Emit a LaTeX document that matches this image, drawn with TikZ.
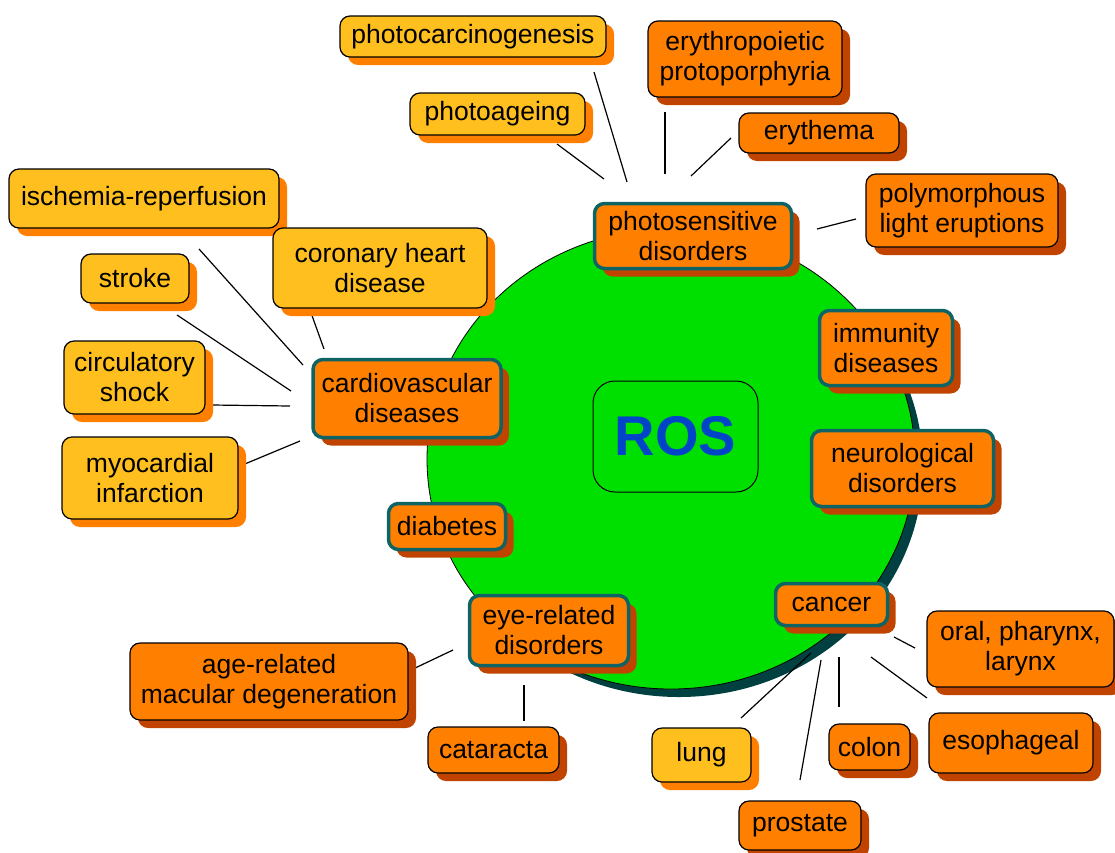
\documentclass[tikz,border=0pt]{standalone}
\usepackage{fontspec}
\setmainfont{Liberation Sans}
\usetikzlibrary{shadows}
\definecolor{yel}{HTML}{FFBF1F}
\definecolor{org}{HTML}{FF8000}
\definecolor{dorg}{HTML}{C04400}
\definecolor{tealb}{HTML}{0E6464}
\definecolor{grn}{HTML}{00E000}
\definecolor{dteal}{HTML}{004040}
\definecolor{rosblue}{HTML}{0044C8}
\tikzset{
  box/.style={rounded corners=10pt, inner sep=0pt, align=center,
    font=\fontsize{26.5}{30}\selectfont, line width=1.2pt, draw=black},
  ybox/.style={box, fill=yel, drop shadow={shadow xshift=8pt, shadow yshift=-8pt, fill=org, opacity=1}},
  obox/.style={box, fill=org, drop shadow={shadow xshift=8pt, shadow yshift=-8pt, fill=dorg, opacity=1}},
  cbox/.style={obox, draw=tealb, line width=3.5pt},
  sz/.style 2 args={minimum width=#1pt, minimum height=#2pt},
  link/.style={line width=1.2pt, draw=black},
}
\begin{document}
\begin{tikzpicture}[x=1pt,y=-1pt]
\useasboundingbox (0,0) rectangle (1115,852);
% central circle
\fill[dteal] (679,467) ellipse [x radius=244pt, y radius=230pt];
\draw[fill=grn, line width=0.8pt] (671,459) ellipse [x radius=244pt, y radius=230pt];
\node[draw=black, line width=1pt, rounded corners=22pt, sz={165}{111}, inner sep=0pt,
  font=\fontsize{56}{60}\selectfont\bfseries, text=rosblue] (ros) at (675.5,436.5) {ROS};

% connector coordinates
\coordinate (pc1) at (594,72);  \coordinate (pc2) at (627,182);
\coordinate (pa1) at (557,144); \coordinate (pa2) at (604,179);
\coordinate (ep1) at (665,112); \coordinate (ep2) at (665,174);
\coordinate (er1) at (731,138); \coordinate (er2) at (691,176);
\coordinate (pl1) at (856,219); \coordinate (pl2) at (817,229);
\coordinate (is1) at (199,249); \coordinate (is2) at (303,365);
\coordinate (co1) at (310,310); \coordinate (co2) at (324,349);
\coordinate (st1) at (177,315); \coordinate (st2) at (291,391);
\coordinate (ci1) at (212,405); \coordinate (ci2) at (290,406);
\coordinate (my1) at (240,466); \coordinate (my2) at (300,441);
\coordinate (am1) at (413,669); \coordinate (am2) at (453,650);
\coordinate (ca1) at (524,685); \coordinate (ca2) at (524,721);
\coordinate (or1) at (894,637); \coordinate (or2) at (915,648);
\coordinate (es1) at (871,657); \coordinate (es2) at (927,698);
\coordinate (cl1) at (839,657); \coordinate (cl2) at (839,707);
\coordinate (pr1) at (821,660); \coordinate (pr2) at (800,780);
\coordinate (lu1) at (811,653); \coordinate (lu2) at (741,718);
\foreach \a/\b in {pc1/pc2,pa1/pa2,ep1/ep2,er1/er2,pl1/pl2,is1/is2,co1/co2,st1/st2,ci1/ci2,my1/my2,am1/am2,ca1/ca2,or1/or2,es1/es2,cl1/cl2,pr1/pr2,lu1/lu2}
  \draw[link] (\a) -- (\b);

% top
\node[ybox, sz={266}{41}] (photocarc) at (473,36.5) {photocarcinogenesis};
\node[ybox, sz={175}{42}] (photoage) at (497.5,114) {photoageing};
\node[obox, sz={194}{76}] (erythro) at (745,59) {erythropoietic\\protoporphyria};
\node[obox, sz={160}{40}] (erythema) at (819,133) {erythema};
\node[obox, sz={192}{73}] (polymorph) at (962,210.5) {polymorphous\\light eruptions};
\node[cbox, sz={197}{65}] (photosens) at (693,236) {photosensitive\\disorders};
% left
\node[ybox, sz={270}{59}] (ischemia) at (144,198.5) {ischemia-reperfusion};
\node[ybox, sz={214}{80}] (coronary) at (380,268) {coronary heart\\disease};
\node[ybox, sz={108}{49}] (stroke) at (135,278.5) {stroke};
\node[ybox, sz={141}{73}] (circ) at (134.5,377.5) {circulatory\\shock};
\node[cbox, sz={188}{78}] (cardio) at (407,398.5) {cardiovascular\\diseases};
\node[ybox, sz={176}{82}] (myo) at (150,478) {myocardial\\infarction};
% right
\node[cbox, sz={133}{75}] (immunity) at (886,348) {immunity\\diseases};
\node[cbox, sz={182}{76}] (neuro) at (902.5,468.5) {neurological\\disorders};
% bottom
\node[cbox, sz={117}{46}] (diabetes) at (447,526.5) {diabetes};
\node[cbox, sz={112}{42}] (cancer) at (831.5,604.5) {cancer};
\node[cbox, sz={159}{70}] (eye) at (549,630.5) {eye-related\\disorders};
\node[obox, sz={278}{77}] (amd) at (269,681.5) {age-related\\macular degeneration};
\node[obox, sz={131}{46}] (cataracta) at (493.5,750) {cataracta};
\node[ybox, sz={99}{54}] (lung) at (701.5,755) {lung};
\node[obox, sz={81}{46}] (colon) at (869.5,747) {colon};
\node[obox, sz={164}{60}] (esoph) at (1011,743) {esophageal};
\node[obox, sz={187}{76}] (oral) at (1020.5,649) {oral, pharynx,\\larynx};
\node[obox, sz={122}{49}] (prostate) at (800,825.5) {prostate};
\end{tikzpicture}
\end{document}
